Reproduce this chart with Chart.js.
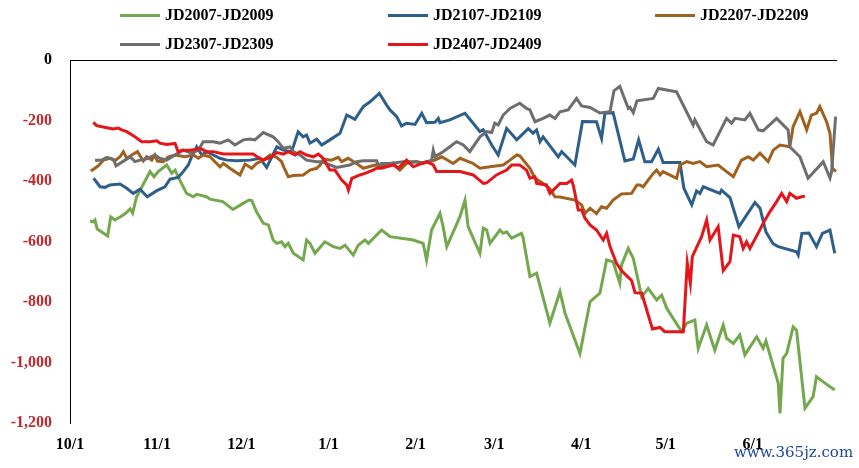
<!DOCTYPE html>
<html>
<head>
<meta charset="utf-8">
<script src="https://cdn.jsdelivr.net/npm/chart.js@4.4.1/dist/chart.umd.min.js"></script>
<style>
  html, body { margin: 0; padding: 0; background: #fff; }
  #wrap { position: relative; width: 859px; height: 468px; overflow: hidden; background: #fff; }
  #c { position: absolute; left: 0; top: 0; }
  .lg { position: absolute; height: 20px; display: flex; align-items: center; white-space: nowrap;
        font: bold 16px "Liberation Serif", "Times New Roman", serif; color: #000; }
  .lg .sw { width: 40px; height: 3px; margin-right: 5px; }
  #wm { position: absolute; left: 734px; top: 443px; font: 15px "DejaVu Serif", serif; color: #22489a; }
</style>
</head>
<body>
<div id="wrap">
  <canvas id="c" width="859" height="468"></canvas>
  <div id="wm">www.365jz.com</div>
</div>
<script>
// x = days since 10/1, y = spread value
const monthDays   = [0, 31, 61, 92, 123, 151, 182, 212, 243];
const monthLabels = ['10/1', '11/1', '12/1', '1/1', '2/1', '3/1', '4/1', '5/1', '6/1'];
const yTickValues = [-1200, -1000, -800, -600, -400, -200, 0];

const seriesNames  = ['JD2007-JD2009', 'JD2107-JD2109', 'JD2207-JD2209', 'JD2307-JD2309', 'JD2407-JD2409'];
const seriesColors = ['#74a84e', '#2e5f8a', '#a0611f', '#6e6e6e', '#e3161b'];

const jd2007 = [[7.1,-532],[8.3,-535],[8.9,-529],[9.7,-559],[13.4,-582],[14.5,-519],[16.0,-529],[18.4,-516],[19.9,-506],[21.4,-492],[22.3,-506],[23.7,-452],[28.5,-369],[29.9,-386],[31.4,-369],[34.4,-347],[36.2,-374],[37.4,-364],[39.1,-397],[41.5,-441],[43.9,-452],[45.1,-444],[48.6,-452],[49.8,-460],[54.4,-468],[58.0,-494],[61.6,-474],[63.7,-463],[64.7,-465],[66.4,-502],[68.8,-540],[70.6,-545],[72.3,-595],[73.6,-606],[75.3,-601],[76.5,-617],[77.7,-606],[79.5,-639],[83.0,-661],[84.2,-595],[85.4,-606],[87.2,-639],[90.7,-601],[93.7,-617],[96.1,-623],[97.9,-612],[100.8,-645],[102.6,-612],[105.0,-595],[106.2,-606],[110.9,-562],[113.9,-584],[122.2,-595],[125.7,-606],[126.9,-661],[128.7,-562],[131.7,-507],[132.8,-551],[134.1,-617],[138.8,-518],[140.6,-463],[141.7,-551],[145.9,-639],[147.1,-556],[148.3,-562],[149.5,-606],[153.0,-562],[154.2,-573],[155.4,-568],[157.2,-589],[160.7,-573],[161.3,-589],[163.7,-716],[166.1,-705],[170.8,-870],[174.4,-766],[176.2,-837],[181.5,-970],[185.1,-799],[188.6,-771],[191.0,-661],[193.3,-667],[195.7,-738],[196.3,-678],[197.5,-650],[198.7,-623],[200.5,-656],[203.5,-783],[205.8,-755],[208.8,-793],[210.6,-777],[212.4,-821],[217.7,-898],[219.5,-870],[222.4,-860],[223.6,-953],[226.6,-876],[229.5,-959],[232.5,-876],[233.7,-920],[236.1,-937],[238.4,-909],[240.2,-975],[244.4,-915],[246.7,-953],[247.7,-929],[252.1,-1069],[252.7,-1168],[253.8,-986],[255.1,-970],[257.4,-882],[258.6,-893],[261.6,-1151],[264.5,-1113],[265.7,-1047],[268.1,-1064],[272.2,-1091]];

const jd2107 = [[8.4,-391],[10.7,-419],[12.5,-421],[14.2,-413],[17.8,-410],[20.2,-424],[22.5,-441],[24.9,-427],[27.5,-452],[30.9,-432],[33.8,-419],[35.6,-394],[38.5,-388],[40.3,-369],[42.1,-347],[43.3,-320],[45.1,-287],[46.9,-314],[48.6,-303],[51.0,-314],[53.4,-325],[55.8,-331],[59.3,-333],[64.1,-331],[67.6,-325],[70.0,-355],[73.6,-287],[75.9,-298],[78.9,-303],[81.2,-237],[83.0,-254],[84.2,-248],[85.4,-275],[87.8,-262],[89.6,-281],[92.5,-264],[96.1,-242],[98.5,-182],[99.6,-187],[101.4,-196],[104.4,-154],[106.8,-138],[110.1,-110],[112.7,-149],[113.9,-165],[116.3,-187],[118.0,-218],[119.8,-209],[122.8,-213],[125.2,-176],[126.9,-207],[129.9,-206],[131.1,-193],[131.7,-207],[135.2,-198],[140.6,-176],[143.5,-209],[145.9,-237],[147.1,-231],[150.1,-281],[152.4,-314],[155.4,-226],[159.0,-264],[163.1,-227],[164.8,-242],[166.1,-231],[167.3,-270],[168.4,-254],[173.8,-320],[175.0,-303],[176.8,-320],[179.7,-347],[182.4,-203],[187.4,-204],[189.2,-259],[190.4,-176],[193.3,-174],[197.5,-334],[200.5,-327],[202.4,-264],[204.6,-336],[207.0,-336],[209.4,-295],[211.1,-339],[217.1,-339],[218.5,-424],[221.3,-479],[223.0,-433],[224.2,-441],[225.4,-419],[231.3,-441],[231.9,-430],[234.9,-455],[238.1,-551],[243.8,-471],[245.6,-490],[247.7,-568],[250.3,-608],[252.1,-617],[258.6,-634],[259.2,-645],[260.5,-573],[263.0,-572],[265.7,-617],[267.8,-573],[270.5,-562],[272.2,-639]];

const jd2207 = [[7.4,-367],[8.9,-358],[10.4,-347],[11.9,-331],[14.2,-325],[16.0,-333],[17.8,-320],[19.0,-303],[20.2,-325],[22.0,-314],[24.0,-303],[26.1,-334],[27.3,-320],[29.1,-331],[30.2,-314],[31.1,-334],[33.2,-336],[35.0,-320],[37.4,-314],[40.9,-320],[43.9,-314],[45.7,-325],[47.4,-314],[49.8,-320],[53.4,-353],[54.6,-342],[56.9,-358],[60.5,-380],[62.3,-344],[64.7,-358],[66.4,-342],[68.8,-331],[71.2,-314],[73.6,-322],[75.3,-336],[75.9,-350],[77.7,-386],[79.5,-382],[83.0,-380],[85.4,-364],[87.8,-358],[89.0,-347],[90.2,-328],[93.1,-331],[95.5,-322],[96.7,-336],[99.0,-325],[102.0,-342],[104.4,-358],[108.5,-347],[111.5,-350],[115.0,-340],[117.4,-364],[119.8,-342],[123.4,-336],[125.7,-342],[129.9,-331],[132.3,-320],[136.4,-342],[138.8,-325],[143.5,-342],[145.9,-358],[149.5,-353],[154.2,-347],[156.6,-331],[159.0,-314],[160.1,-317],[163.7,-358],[165.5,-391],[168.4,-408],[170.8,-426],[172.6,-452],[174.4,-453],[179.7,-463],[182.1,-479],[183.3,-507],[185.1,-490],[187.4,-508],[189.2,-485],[191.0,-490],[193.3,-463],[196.3,-443],[199.9,-441],[201.8,-413],[202.8,-413],[204.0,-419],[207.6,-375],[208.8,-364],[210.0,-380],[211.1,-369],[215.9,-391],[217.1,-347],[219.5,-336],[221.8,-342],[224.2,-336],[226.6,-353],[230.7,-347],[233.7,-369],[236.1,-386],[239.0,-331],[241.4,-320],[243.2,-331],[245.6,-308],[248.5,-336],[250.3,-298],[252.7,-281],[256.2,-287],[257.4,-220],[259.8,-171],[262.2,-231],[263.9,-182],[265.7,-176],[266.9,-154],[269.3,-204],[270.5,-242],[271.4,-358],[272.6,-369]];

const jd2307 = [[8.9,-331],[11.3,-331],[13.1,-322],[15.4,-328],[16.4,-350],[19.6,-331],[21.4,-320],[23.1,-336],[24.9,-331],[27.3,-327],[30.2,-314],[32.0,-325],[34.4,-331],[37.4,-314],[40.3,-298],[43.3,-308],[45.7,-298],[47.4,-270],[51.0,-270],[53.4,-275],[56.3,-264],[58.7,-281],[61.7,-264],[64.1,-261],[65.8,-264],[68.8,-240],[72.3,-254],[74.1,-270],[75.9,-292],[78.3,-287],[79.5,-303],[81.9,-314],[84.2,-331],[87.8,-336],[89.6,-336],[92.5,-347],[94.9,-355],[99.6,-347],[102.0,-336],[104.4,-333],[109.1,-333],[109.7,-347],[110.9,-342],[113.9,-342],[118.6,-336],[122.2,-336],[125.7,-340],[128.7,-331],[129.3,-298],[129.9,-320],[132.8,-303],[135.2,-287],[137.6,-270],[140.0,-281],[142.3,-303],[145.9,-254],[148.3,-237],[150.1,-240],[151.2,-209],[152.4,-215],[154.2,-182],[156.6,-160],[160.1,-143],[162.5,-160],[163.7,-165],[165.5,-204],[168.4,-193],[170.8,-182],[172.6,-193],[174.4,-171],[177.3,-165],[180.3,-127],[182.1,-152],[185.1,-157],[188.6,-175],[192.2,-171],[193.6,-102],[195.7,-87],[198.7,-160],[199.3,-156],[200.5,-174],[201.8,-135],[207.6,-127],[209.4,-94],[212.4,-99],[215.9,-105],[221.8,-215],[222.4,-198],[226.6,-270],[228.9,-281],[233.7,-193],[235.5,-209],[236.7,-193],[240.2,-198],[242.0,-176],[245.0,-231],[246.7,-234],[251.5,-193],[255.6,-231],[256.2,-287],[259.8,-320],[262.7,-391],[268.1,-336],[270.5,-390],[271.1,-369],[272.5,-187]];

const jd2407 = [[8.3,-206],[9.5,-217],[13.1,-224],[15.4,-228],[17.2,-225],[18.4,-231],[20.2,-237],[23.1,-254],[25.5,-270],[28.5,-270],[30.9,-267],[32.0,-275],[34.4,-279],[37.4,-276],[38.5,-304],[39.8,-298],[42.7,-298],[45.1,-295],[46.3,-292],[48.6,-303],[51.0,-303],[54.6,-311],[59.3,-311],[62.3,-311],[65.2,-311],[67.0,-322],[68.8,-331],[71.2,-322],[73.6,-306],[75.9,-311],[77.7,-303],[80.1,-314],[81.9,-303],[84.2,-314],[86.6,-320],[88.4,-311],[90.1,-325],[92.5,-364],[94.3,-364],[96.7,-397],[98.5,-413],[99.1,-430],[100.3,-391],[103.2,-380],[105.0,-375],[107.9,-364],[109.1,-358],[110.9,-358],[112.7,-353],[115.1,-347],[116.8,-358],[119.8,-331],[122.2,-353],[126.9,-336],[129.3,-347],[130.5,-369],[135.2,-369],[138.8,-369],[143.5,-380],[147.1,-408],[148.3,-406],[151.8,-380],[155.4,-364],[157.2,-347],[160.1,-347],[162.5,-364],[163.7,-391],[165.5,-386],[166.1,-408],[169.6,-413],[170.8,-441],[172.0,-430],[174.4,-408],[176.8,-408],[178.5,-397],[179.1,-413],[180.9,-496],[182.1,-496],[183.3,-523],[185.1,-545],[187.4,-562],[189.8,-595],[191.0,-573],[192.2,-617],[194.5,-672],[196.3,-696],[197.9,-711],[199.9,-729],[201.1,-769],[203.5,-771],[207.3,-889],[210.0,-884],[211.7,-898],[218.3,-898],[219.7,-671],[220.8,-738],[221.5,-650],[224.8,-584],[226.6,-529],[227.8,-595],[230.7,-551],[232.5,-696],[234.9,-667],[236.1,-579],[238.4,-584],[239.6,-623],[240.8,-601],[242.0,-623],[244.9,-573],[246.7,-540],[249.1,-502],[251.5,-468],[253.3,-441],[255.1,-468],[256.2,-441],[258.6,-457],[260.4,-452],[261.6,-450]];

const seriesData = [jd2007, jd2107, jd2207, jd2307, jd2407];
const drawOrder  = [5, 4, 3, 2, 1]; // later series drawn on top, as in the source

// HTML legend (two rows, column-aligned as in the reference)
const legendCols = [120, 388, 655];
const legendRows = [5, 34];
const wrap = document.getElementById('wrap');
seriesNames.forEach((name, i) => {
  const d = document.createElement('div');
  d.className = 'lg';
  d.style.left = legendCols[i % 3] + 'px';
  d.style.top = legendRows[Math.floor(i / 3)] + 'px';
  const sw = document.createElement('span');
  sw.className = 'sw';
  sw.style.background = seriesColors[i];
  const t = document.createElement('span');
  t.textContent = name;
  d.appendChild(sw); d.appendChild(t);
  wrap.appendChild(d);
});

const zeroLine = {
  id: 'zeroLine',
  afterDatasetsDraw(chart) {
    const { ctx, chartArea, scales } = chart;
    const y = Math.round(scales.y.getPixelForValue(0)) + 0.5;
    ctx.save();
    ctx.strokeStyle = '#000';
    ctx.lineWidth = 1;
    ctx.beginPath();
    ctx.moveTo(chartArea.left, y);
    ctx.lineTo(chartArea.right, y);
    ctx.stroke();
    ctx.restore();
  }
};

const fontSpec = { family: '"Liberation Serif", "Times New Roman", serif', size: 16, weight: 'bold' };

new Chart(document.getElementById('c'), {
  type: 'line',
  data: {
    datasets: seriesData.map((arr, i) => ({
      label: seriesNames[i],
      data: arr.map(p => ({ x: p[0], y: p[1] })),
      borderColor: seriesColors[i],
      backgroundColor: seriesColors[i],
      borderWidth: 3,
      pointRadius: 0,
      tension: 0,
      fill: false,
      order: drawOrder[i]
    }))
  },
  options: {
    responsive: false,
    animation: false,
    devicePixelRatio: 1,
    layout: { padding: { top: 60, right: 22, left: 0, bottom: 0 } },
    plugins: { legend: { display: false }, tooltip: { enabled: false } },
    scales: {
      x: {
        type: 'linear',
        min: 0,
        max: 273,
        grid: { display: false, drawTicks: false },
        border: { display: false },
        afterBuildTicks(scale) { scale.ticks = monthDays.map(v => ({ value: v })); },
        afterFit(scale) { scale.height = 45; },
        ticks: {
          autoSkip: false,
          maxRotation: 0,
          padding: 12,
          color: '#000',
          font: fontSpec,
          callback: (v) => { const k = monthDays.indexOf(v); return k >= 0 ? monthLabels[k] : ''; }
        }
      },
      y: {
        min: -1200,
        max: 0,
        grid: { display: false, drawTicks: false },
        border: { display: true, color: '#000', width: 1 },
        afterBuildTicks(scale) { scale.ticks = yTickValues.map(v => ({ value: v })); },
        afterFit(scale) { scale.width = 70; },
        ticks: {
          padding: 18,
          font: fontSpec,
          color: (ctx) => (ctx.tick && ctx.tick.value === 0) ? '#000' : '#c0282e',
          callback: (v) => v.toLocaleString('en-US')
        }
      }
    }
  },
  plugins: [zeroLine]
});
</script>
</body>
</html>
